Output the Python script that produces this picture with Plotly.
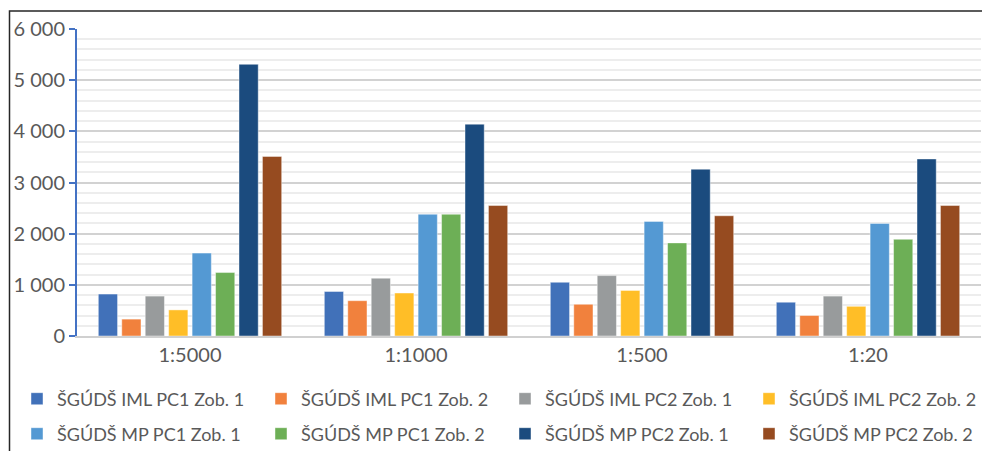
import plotly.graph_objects as go

# Map scales (categories on the x axis)
scales = ["1:5000", "1:1000", "1:500", "1:20"]

# Series names, values per scale and bar colours
series_names = [
    "ŠGÚDŠ IML PC1 Zob. 1",
    "ŠGÚDŠ IML PC1 Zob. 2",
    "ŠGÚDŠ IML PC2 Zob. 1",
    "ŠGÚDŠ IML PC2 Zob. 2",
    "ŠGÚDŠ MP PC1 Zob. 1",
    "ŠGÚDŠ MP PC1 Zob. 2",
    "ŠGÚDŠ MP PC2 Zob. 1",
    "ŠGÚDŠ MP PC2 Zob. 2",
]
iml_pc1_zob1 = [820, 870, 1050, 660]
iml_pc1_zob2 = [330, 690, 620, 400]
iml_pc2_zob1 = [780, 1130, 1180, 780]
iml_pc2_zob2 = [510, 840, 890, 580]
mp_pc1_zob1 = [1620, 2380, 2240, 2200]
mp_pc1_zob2 = [1240, 2380, 1820, 1890]
mp_pc2_zob1 = [5310, 4140, 3260, 3460]
mp_pc2_zob2 = [3510, 2550, 2350, 2550]

series_values = [
    iml_pc1_zob1, iml_pc1_zob2, iml_pc2_zob1, iml_pc2_zob2,
    mp_pc1_zob1, mp_pc1_zob2, mp_pc2_zob1, mp_pc2_zob2,
]
colors = [
    "#4171B9", "#F1813D", "#989B9C", "#FFBE27",
    "#5499D3", "#6DAF56", "#1B4B7E", "#964B20",
]

# Y axis ticks
y_ticks = [0, 1000, 2000, 3000, 4000, 5000, 6000]

FONT = "Lato"
TEXT_COLOR = "#595959"

fig = go.Figure()
for i, (name, vals, col) in enumerate(zip(series_names, series_values, colors)):
    fig.add_trace(go.Bar(
        x=scales,
        y=vals,
        name=name,
        marker=dict(color=col, line=dict(color="rgba(255,255,255,0.55)", width=0.8)),
        legend="legend" if i < 4 else "legend2",
    ))

W, H = 982, 451
ML, MR, MT, MB = 77, 1, 29, 115
plot_w = W - ML - MR
plot_h = H - MT - MB


def px_to_paper_x(px):
    return (px - ML) / plot_w


def px_to_paper_y(py):
    return (H - MB - py) / plot_h


legend_common = dict(
    orientation="h",
    xanchor="left",
    yanchor="middle",
    entrywidth=199,
    entrywidthmode="pixels",
    font=dict(family=FONT, size=18, color=TEXT_COLOR),
    bgcolor="rgba(0,0,0,0)",
    itemclick=False,
    itemdoubleclick=False,
)

fig.update_layout(
    width=W,
    height=H,
    margin=dict(l=ML, r=MR, t=MT, b=MB, pad=0, autoexpand=False),
    paper_bgcolor="white",
    plot_bgcolor="white",
    separators=", ",
    barmode="group",
    bargap=0.17,
    bargroupgap=0.18,
    font=dict(family=FONT, size=18, color=TEXT_COLOR),
    legend=dict(x=px_to_paper_x(17), y=px_to_paper_y(399), **legend_common),
    legend2=dict(x=px_to_paper_x(17), y=px_to_paper_y(434), **legend_common),
    xaxis=dict(
        showline=True,
        linecolor="#D0D0D0",
        linewidth=1.5,
        showgrid=False,
        ticks="",
        tickfont=dict(family=FONT, size=20, color=TEXT_COLOR),
        fixedrange=True,
    ),
    yaxis=dict(
        range=[0, 6000],
        tickvals=y_ticks,
        tickformat=",d",
        showline=True,
        linecolor="#4472C4",
        linewidth=2,
        ticks="outside",
        ticklen=6,
        tickwidth=2,
        tickcolor="#4472C4",
        showgrid=True,
        gridcolor="#D2D2D2",
        gridwidth=1.5,
        minor=dict(dtick=200, showgrid=True, gridcolor="#EDEDED", gridwidth=1.5, ticks=""),
        zeroline=False,
        tickfont=dict(family=FONT, size=20, color=TEXT_COLOR),
        fixedrange=True,
    ),
)

# Outer chart frame (left and top edges visible in the window)
fig.add_shape(
    type="rect",
    xref="paper", yref="paper",
    x0=px_to_paper_x(9.5), x1=px_to_paper_x(W + 20),
    y0=px_to_paper_y(H + 20), y1=px_to_paper_y(11),
    line=dict(color="#262626", width=1.5),
    fillcolor="rgba(0,0,0,0)",
    layer="above",
)

fig.write_html("out.html")
